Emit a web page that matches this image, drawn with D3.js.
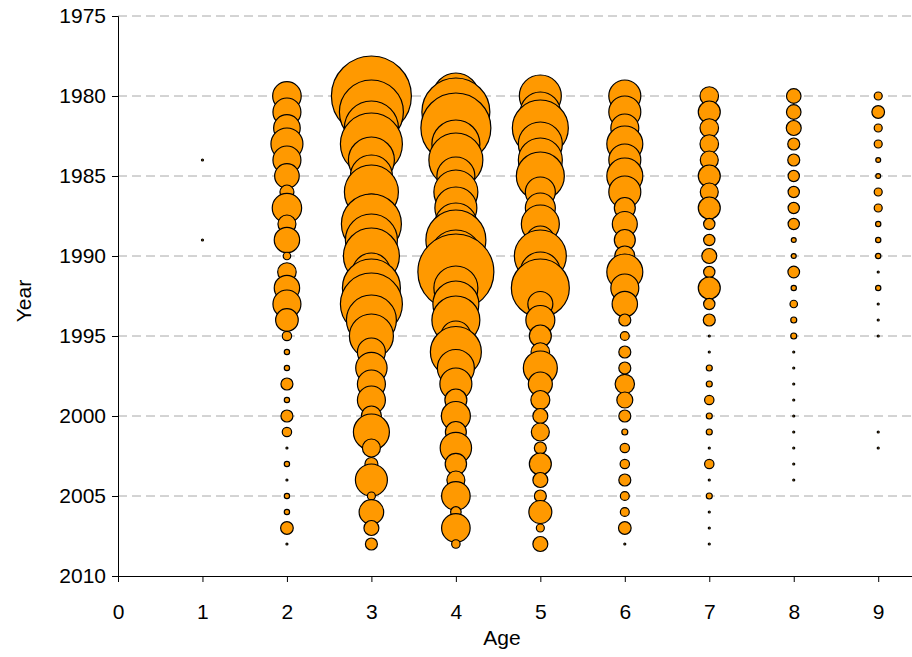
<!DOCTYPE html>
<html>
<head>
<meta charset="utf-8">
<script src="https://cdn.jsdelivr.net/npm/d3@7"></script>
<style>
  body { margin: 0; background: #fff; }
  svg { display: block; font-family: "Liberation Sans", Arial, sans-serif; }
</style>
</head>
<body>
<div id="bubbles"></div>
<script>
// Years on the y axis (one row per year)
var years = d3.range(1980, 2009);
var ages = [1, 2, 3, 4, 5, 6, 7, 8, 9];

// Catch at age, one array per age, 1980..2008 (0 = nothing drawn)
var age1 = [0,0,0,0,1,0,0,0,0,1, 0,0,0,0,0,0,0,0,0,0, 0,0,0,0,0,0,0,0,0];
var age2 = [204,196,177,256,196,151,49,216,81,161, 14,86,161,196,128,22,7,7,36,7, 36,22,1,7,1,7,7,40,1];
var age3 = [1600,1024,729,961,529,441,729,196,900,676, 784,361,841,961,625,484,196,246,196,196, 100,324,81,42,256,16,151,56,36];
var age4 = [529,1156,1225,576,729,361,484,441,441,900, 676,1444,484,529,576,225,650,342,256,121, 210,110,246,114,81,204,28,204,18];
var age5 = [441,400,784,484,484,576,225,225,361,196, 676,400,841,156,210,121,86,289,144,90, 56,81,36,121,56,36,132,16,56];
var age6 = [256,256,196,324,256,324,256,110,156,110, 100,324,196,161,36,20,36,36,94,64, 36,9,22,22,36,20,20,40,1];
var age7 = [86,121,86,86,81,121,81,121,32,32, 56,32,121,32,36,1,1,9,9,22, 9,9,1,22,1,9,1,1,1];
var age8 = [53,53,56,36,36,32,32,32,32,6, 6,34,7,14,9,9,1,1,1,1, 1,1,1,1,1,0,0,0,0];
var age9 = [16,40,16,16,6,6,16,16,7,7, 7,1,7,1,1,1,0,0,0,0, 0,1,1,0,0,0,0,0,0];

var yTicks = [1975, 1980, 1985, 1990, 1995, 2000, 2005, 2010];
var xTicks = [0, 1, 2, 3, 4, 5, 6, 7, 8, 9];

var series = [age1, age2, age3, age4, age5, age6, age7, age8, age9];

// flatten to one row per bubble
var points = [];
series.forEach(function (vals, i) {
    vals.forEach(function (v, j) {
        if (v > 0) points.push({ age: ages[i], year: years[j], value: v });
    });
});

var margin = { top: 16, right: 0, bottom: 81, left: 118 },
    width = 912 - margin.left - margin.right,
    height = 657 - margin.top - margin.bottom;

var svg = d3.select("#bubbles").append("svg")
    .attr("width", 912)
    .attr("height", 657);

var g = svg.append("g")
    .attr("transform", "translate(" + margin.left + "," + margin.top + ")");

var xScale = d3.scaleLinear().domain([0, 9.4]).range([0, width]),
    yScale = d3.scaleLinear().domain([1975, 2010]).range([0, height]),
    rScale = d3.scaleSqrt().domain([0, 1600]).range([0, 40]);

// dashed grid lines
g.selectAll(".grid")
    .data(yTicks.slice(0, -1))
    .enter().append("line")
    .attr("class", "grid")
    .attr("x1", 0)
    .attr("x2", width)
    .attr("y1", function (d) { return yScale(d); })
    .attr("y2", function (d) { return yScale(d); })
    .attr("stroke", "#a8a8a8")
    .attr("stroke-width", 1)
    .attr("stroke-dasharray", "9,5");

// bubbles
g.selectAll(".dot")
    .data(points)
    .enter().append("circle")
    .attr("class", "dot")
    .attr("cx", function (d) { return xScale(d.age); })
    .attr("cy", function (d) { return yScale(d.year); })
    .attr("r", function (d) { return rScale(d.value); })
    .attr("fill", "#ff9900")
    .attr("stroke", "#000")
    .attr("stroke-width", 1.2);

// axes
var yAxis = d3.axisLeft(yScale).tickValues(yTicks).tickFormat(d3.format("d"))
    .tickSize(6).tickPadding(6);
var xAxis = d3.axisBottom(xScale).tickValues(xTicks).tickFormat(d3.format("d"))
    .tickSize(6).tickPadding(22);

g.append("g").attr("class", "axis--y").call(yAxis);
g.append("g").attr("class", "axis--x")
    .attr("transform", "translate(0," + height + ")")
    .call(xAxis);

svg.selectAll(".axis--x path, .axis--y path").attr("stroke", "#000").attr("stroke-width", 1);
svg.selectAll(".tick line").attr("stroke", "#000");
svg.selectAll(".axis--x, .axis--y")
    .attr("font-family", "'Liberation Sans', Arial, sans-serif")
    .attr("font-size", 21);
svg.selectAll(".tick text").attr("fill", "#000");

// axis titles
svg.append("text")
    .attr("x", 502)
    .attr("y", 645)
    .attr("text-anchor", "middle")
    .attr("font-size", 21)
    .text("Age");

svg.append("text")
    .attr("transform", "translate(31,301) rotate(-90)")
    .attr("text-anchor", "middle")
    .attr("font-size", 21)
    .text("Year");
</script>
</body>
</html>
